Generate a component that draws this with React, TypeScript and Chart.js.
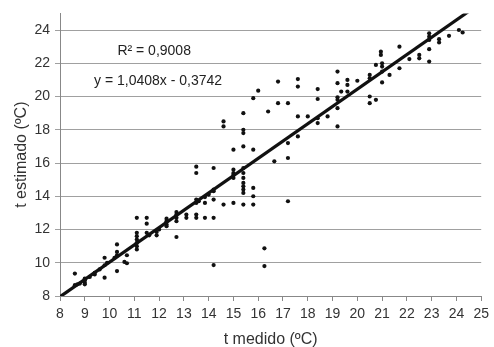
import React, { useEffect, useRef } from "react";
import { Chart, registerables } from "chart.js";

Chart.register(...registerables);

// Measured temperature (x) and estimated temperature (y), ºC
const measured: number[] = [
  8.6, 8.6, 8.7, 8.8, 9.0, 9.0, 9.0, 9.0, 9.2, 9.4, 9.4, 9.6, 9.8, 9.8, 9.8, 9.9,
  10.3, 10.3, 10.3, 10.3, 10.2, 10.6, 10.7, 10.7,
  11.1, 11.1, 11.1, 11.1, 11.1, 11.1, 11.1, 11.5, 11.5, 11.5, 11.6, 11.9, 11.9, 12.0,
  12.3, 12.3, 12.3, 12.3, 12.7, 12.7, 12.7, 12.7, 12.7, 13.1, 13.1,
  13.5, 13.5, 13.5, 13.5, 13.5, 13.5, 13.6, 13.85, 13.85, 13.85, 14.0,
  14.2, 14.2, 14.2, 14.2, 14.2, 14.2, 14.6, 14.6, 14.6,
  15.0, 15.0, 15.0, 15.0, 15.0, 15.0,
  15.4, 15.4, 15.4, 15.4, 15.4, 15.4, 15.4, 15.4, 15.4, 15.4, 15.4, 15.4,
  15.8, 15.8, 15.8, 15.8, 15.8, 16.0, 16.25, 16.25, 16.4, 16.65, 16.8, 16.8,
  17.2, 17.2, 17.2, 17.2, 17.6, 17.6, 17.6, 17.6, 18.0,
  18.4, 18.4, 18.4, 18.4, 18.8,
  19.2, 19.2, 19.2, 19.2, 19.2, 19.2, 19.35, 19.6, 19.6, 19.6, 20.0,
  20.5, 20.5, 20.5, 20.5, 20.75, 20.75, 20.95, 20.95, 21.0, 21.0, 21.0, 21.0, 21.3,
  21.7, 21.7, 22.1, 22.5, 22.5, 22.9, 22.9, 22.9, 22.9, 22.9,
  23.3, 23.3, 23.7, 24.1, 24.25,
];

const estimated: number[] = [
  9.35, 8.65, 8.7, 8.75, 8.8, 8.95, 9.05, 8.7, 9.15, 9.3, 9.4, 9.6, 10.3, 9.1, 9.85, 10.0,
  11.1, 9.5, 10.65, 10.45, 10.3, 10.05, 9.97, 10.45,
  12.7, 11.8, 11.6, 11.4, 11.2, 11.0, 10.8, 12.7, 12.35, 11.8, 11.65, 11.85, 11.65, 12.0,
  12.65, 12.5, 12.3, 12.2, 13.05, 12.9, 12.7, 12.5, 11.55, 12.9, 12.7,
  15.78, 15.4, 13.8, 13.6, 12.9, 12.7, 13.7, 13.95, 13.6, 12.7, 14.1,
  15.7, 14.4, 14.3, 13.8, 12.7, 9.86, 18.5, 18.2, 13.5,
  16.8, 15.6, 15.4, 15.1, 13.6, 15.3,
  19.0, 18.0, 17.8, 17.0, 15.7, 15.4, 15.1, 14.8, 14.6, 14.4, 14.2, 13.5,
  19.9, 16.8, 14.5, 14.0, 13.5, 20.35, 10.87, 9.8, 19.1, 16.1, 20.9, 19.6,
  19.6, 17.2, 16.3, 13.7, 21.05, 20.6, 18.8, 17.6, 18.8,
  20.45, 19.85, 18.7, 18.4, 18.8,
  21.5, 20.8, 19.95, 19.8, 19.3, 18.2, 20.3, 21.0, 20.7, 20.3, 20.95,
  21.3, 21.1, 20.0, 19.6, 21.9, 19.8, 22.7, 22.5, 22.0, 21.8, 20.85, 21.5, 21.3,
  23.0, 21.7, 22.25, 22.5, 22.3, 23.8, 23.6, 23.4, 22.85, 22.1,
  23.45, 23.25, 23.65, 24.0, 23.85,
];

// Linear fit shown on the chart
const fitSlope = 1.0408;
const fitIntercept = -0.3742;
const fitRange: number[] = [8, 24.55];
const r2Label = "R² = 0,9008";
const eqLabel = "y = 1,0408x - 0,3742";

const xTitle = "t medido (ºC)";
const yTitle = "t estimado (ºC)";

const FONT = "'Liberation Sans', Arial, sans-serif";

export default function App() {
  const canvasRef = useRef<HTMLCanvasElement | null>(null);

  useEffect(() => {
    if (!canvasRef.current) return;
    const points = measured.map((x, i) => ({ x, y: estimated[i] }));
    const fitPoints = fitRange.map((x) => ({ x, y: fitSlope * x + fitIntercept }));

    const annotationPlugin = {
      id: "fitText",
      afterDatasetsDraw(chart: any) {
        const ctx = chart.ctx;
        const xs = chart.scales.x;
        const ys = chart.scales.y;
        ctx.save();
        ctx.fillStyle = "#222";
        ctx.font = `14px ${FONT}`;
        ctx.textAlign = "center";
        ctx.textBaseline = "middle";
        ctx.fillText(r2Label, xs.getPixelForValue(11.8), ys.getPixelForValue(22.7));
        ctx.fillText(eqLabel, xs.getPixelForValue(11.96), ys.getPixelForValue(20.9));
        ctx.restore();
      },
    };

    const chart = new Chart(canvasRef.current, {
      type: "scatter",
      data: {
        datasets: [
          {
            type: "line",
            data: fitPoints,
            borderColor: "#111",
            borderWidth: 3.2,
            pointRadius: 0,
            fill: false,
          } as any,
          {
            data: points,
            backgroundColor: "#111",
            borderWidth: 0,
            pointRadius: 2.1,
          },
        ],
      },
      options: {
        animation: false,
        responsive: true,
        maintainAspectRatio: false,
        layout: { padding: { top: 13, right: 11, left: 0, bottom: 0 } },
        plugins: {
          legend: { display: false },
          tooltip: { enabled: false },
        },
        scales: {
          x: {
            type: "linear",
            min: 8,
            max: 25,
            afterFit: (s: any) => {
              s.height = 51;
            },
            ticks: {
              stepSize: 1,
              color: "#333",
              font: { family: FONT, size: 14 },
              padding: 5,
              maxRotation: 0,
              autoSkip: false,
            },
            grid: {
              drawOnChartArea: false,
              drawTicks: true,
              tickLength: 5,
              color: "#888",
            },
            border: { display: true, color: "#888" },
            title: {
              display: true,
              text: xTitle,
              color: "#333",
              font: { family: FONT, size: 16, lineHeight: 1 },
              padding: { top: 0, bottom: -1 },
            },
          },
          y: {
            type: "linear",
            min: 8,
            max: 25,
            afterFit: (s: any) => {
              s.width = 60;
            },
            afterBuildTicks: (s: any) => {
              s.ticks = s.ticks.filter((t: any) => t.value % 2 === 0);
            },
            ticks: {
              stepSize: 2,
              color: "#333",
              font: { family: FONT, size: 14 },
              padding: 5,
            },
            grid: {
              color: "#a0a0a0",
              drawTicks: true,
              tickLength: 5,
            },
            border: { display: true, color: "#888" },
            title: {
              display: true,
              text: yTitle,
              color: "#333",
              font: { family: FONT, size: 16, lineHeight: 1.2 },
              padding: { top: 12, bottom: 0 },
            },
          },
        },
      },
      plugins: [annotationPlugin],
    });
    return () => chart.destroy();
  }, []);

  return (
    <div style={{ position: "fixed", left: 0, top: 0, width: 494, height: 347, background: "#fff" }}>
      <canvas ref={canvasRef} />
    </div>
  );
}
